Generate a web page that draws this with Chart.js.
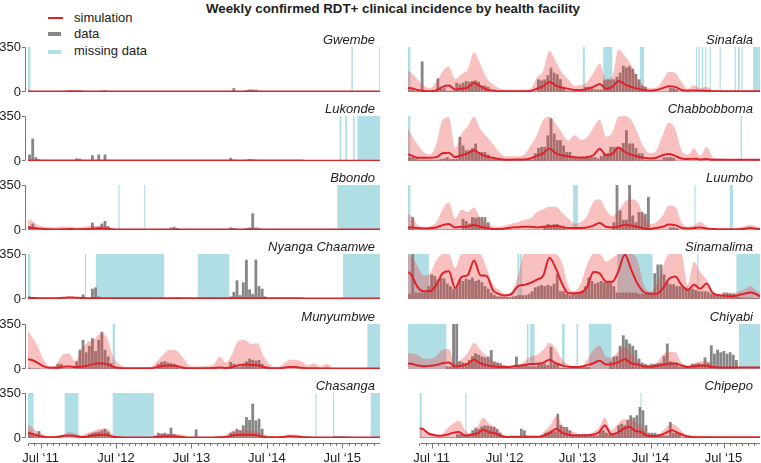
<!DOCTYPE html>
<html>
<head>
<meta charset="utf-8">
<title>Weekly confirmed RDT+ clinical incidence by health facility</title>
<script src="https://cdn.jsdelivr.net/npm/chart.js@4.4.1/dist/chart.umd.min.js"></script>
<style>
  html, body { margin: 0; padding: 0; background: #fff; }
  #fig { position: relative; width: 761px; height: 463px; overflow: hidden;
         font-family: "Liberation Sans", Arial, sans-serif; color: #222; }
  #fig canvas { position: absolute; }
  .title { position: absolute; left: 0; top: 1px; width: 786px; text-align: center;
           font-size: 13.3px; font-weight: bold; line-height: 16px; }
  .legtext { position: absolute; left: 74px; font-size: 13px; line-height: 16px; }
  .swatch { position: absolute; left: 48px; }
  .panelname { position: absolute; width: 200px; text-align: right;
               font-size: 13px; font-style: italic; line-height: 16px; }
</style>
</head>
<body>
<div id="fig">
  <div class="title">Weekly confirmed RDT+ clinical incidence by health facility</div>
  <div class="swatch" style="top:17px;width:15px;height:2px;background:rgb(222,34,42)"></div>
  <div class="legtext" style="top:10px">simulation</div>
  <div class="swatch" style="top:32px;width:13px;height:4px;background:rgb(135,135,135)"></div>
  <div class="legtext" style="top:26px">data</div>
  <div class="swatch" style="top:50px;width:13px;height:4px;background:rgb(176,222,229)"></div>
  <div class="legtext" style="top:43px">missing data</div>
</div>
<script>
// axe du temps en années décimales (mai 2011 -> fin 2015)
var xMin = 2011 + 4 / 12;
var xMax = 2016;
var tickValues = [2011.5, 2012.5, 2013.5, 2014.5, 2015.5];
var tickLabels = ['Jul \u201811', 'Jul \u201812', 'Jul \u201813', 'Jul \u201814', 'Jul \u201815'];

// simulation / borne haute : bord gauche, 56 mois (mai 2011 - déc 2015), bord droit
// données : 112 demi-mois
var gwembeSim = [4,
  4,4,3,3,3,4,5,5,
  4,4,3,3,3,3,3,3,3,3,3,3,
  3,3,3,3,3,3,3,3,3,3,3,3,
  4,4,4,4,4,3,3,3,3,3,3,3,
  3,3,3,3,3,3,3,3,3,3,3,3,
  3];
var gwembeUpper = [8,
  8,7,6,6,6,8,9,9,
  8,8,7,6,6,6,6,6,6,6,6,6,
  6,6,6,6,6,6,6,6,6,6,6,6,
  8,8,8,8,8,6,6,6,6,6,6,6,
  5,5,5,5,5,5,5,5,5,5,5,5,
  5];
var gwembeCases = [
  10,8,5,2,2,2,2,2,2,2,2,2,2,2,3,12,
  15,10,3,3,5,5,3,12,15,3,2,2,2,1,1,1,1,1,1,1,1,1,2,2,
  6,5,3,4,2,2,2,1,1,1,1,1,1,1,1,1,1,1,1,1,1,1,1,2,
  8,30,8,4,6,15,20,20,18,10,3,1,1,1,1,1,1,1,1,1,1,1,1,1,
  1,1,1,1,1,1,1,1,1,1,1,1,1,1,1,1,1,1,1,1,1,1,1,1];
var gwembeMissing = [[2011.333, 2011.365], [2015.62, 2015.64], [2015.989, 2016.0]];

var lukondeSim = [3,
  4,3,3,3,3,3,3,3,
  3,3,3,3,3,3,3,3,3,3,3,3,
  3,3,3,3,3,3,3,3,3,3,3,3,
  3,3,3,3,3,3,3,3,3,3,3,3,
  2,2,2,2,2,2,2,2,2,2,2,2,
  2];
var lukondeUpper = [6,
  7,6,6,6,6,6,6,6,
  6,6,6,6,6,6,6,6,6,6,6,6,
  6,6,6,6,6,6,6,6,6,6,6,6,
  6,6,6,6,6,6,6,6,6,6,6,6,
  4,4,4,4,4,4,4,4,4,4,4,4,
  4];
var lukondeCases = [
  50,175,30,15,5,3,3,2,2,2,2,2,2,2,3,20,
  18,3,3,5,45,3,50,8,50,5,2,2,1,1,1,1,1,1,1,1,1,1,1,1,
  8,3,2,1,1,1,1,1,1,1,1,1,1,1,1,1,1,1,1,1,1,1,1,1,
  25,10,3,3,3,10,15,12,10,8,2,1,1,1,1,1,1,1,1,1,1,1,1,1,
  1,1,1,1,1,1,1,1,1,1,1,1,0,0,0,0,0,0,0,0,0,0,0,0];
var lukondeMissing = [[2015.464, 2015.487], [2015.54, 2015.562], [2015.642, 2015.664], [2015.70, 2016.0]];

var bbondoSim = [20,
  18,12,8,5,4,6,8,6,
  5,8,10,12,10,5,3,3,3,3,3,3,
  3,3,3,3,3,3,3,3,3,3,3,3,
  4,4,4,4,4,4,3,3,3,3,3,3,
  3,3,3,3,3,3,3,3,3,3,3,3,
  3];
var bbondoUpper = [80,
  75,40,25,20,22,28,25,20,
  22,30,32,35,30,10,6,6,6,6,6,6,
  6,6,6,6,6,6,6,6,6,6,6,6,
  8,8,8,8,8,8,6,6,6,6,6,6,
  5,5,5,5,5,5,5,5,5,5,5,5,
  5];
var bbondoCases = [
  30,50,20,5,5,5,5,5,5,5,5,5,5,5,5,8,
  8,10,10,15,57,20,25,50,70,30,5,2,2,2,2,2,2,2,2,2,2,2,2,2,
  2,2,2,2,2,20,25,15,5,2,2,2,2,2,2,2,2,2,2,2,2,2,2,2,
  20,15,10,5,5,15,20,130,20,15,3,2,2,2,2,2,2,2,2,2,2,2,2,2,
  2,2,2,2,2,2,2,2,5,2,0,0,0,0,0,0,0,0,0,0,0,0,0,0];
var bbondoMissing = [[2012.531, 2012.544], [2012.873, 2012.887], [2015.433, 2016.0]];

var nyangaSim = [8,
  8,6,5,5,6,9,12,10,
  8,6,5,5,5,5,5,5,5,5,5,5,
  5,5,5,5,5,5,5,5,5,5,5,5,
  5,5,5,5,5,5,5,5,5,5,5,5,
  4,4,4,4,4,4,4,4,4,4,4,4,
  4];
var nyangaUpper = [15,
  15,12,10,10,12,16,20,16,
  14,12,10,10,9,9,9,9,9,9,9,9,
  8,8,8,8,8,8,8,8,8,8,8,8,
  8,8,8,8,8,8,8,8,8,8,8,8,
  6,6,6,6,6,6,6,6,6,6,6,6,
  6];
var nyangaCases = [
  20,15,5,5,5,3,3,3,3,3,3,3,3,3,3,3,
  3,35,5,3,80,90,20,3,2,2,0,0,0,0,0,0,0,0,0,0,0,0,0,0,
  0,0,0,3,3,3,3,15,12,3,3,3,3,0,0,0,0,0,0,0,0,0,0,0,
  20,55,145,30,130,306,75,40,306,100,80,20,5,5,5,5,5,5,5,5,5,5,5,5,
  5,5,5,5,5,5,5,5,8,8,5,5,0,0,0,0,0,0,0,0,0,0,0,0];
var nyangaMissing = [[2011.333, 2011.365], [2012.087, 2012.10], [2012.233, 2013.14], [2013.584, 2014.002], [2015.509, 2016.0]];

var munyumbweSim = [75,
  72,50,20,10,10,18,20,15,
  18,25,40,45,38,18,8,5,5,5,5,5,
  15,25,28,25,12,6,5,5,5,8,12,8,
  15,30,35,32,30,15,6,5,8,15,15,10,
  5,6,4,5,3,3,3,3,3,3,3,3,
  3];
var munyumbweUpper = [300,
  260,180,70,20,35,110,120,60,
  150,210,230,275,250,100,40,15,10,10,10,15,
  60,110,150,145,100,35,20,20,25,35,95,50,
  120,220,225,195,200,100,35,15,35,70,72,60,
  30,45,20,40,10,8,6,5,5,5,5,5,
  5];
var munyumbweCases = [
  10,5,5,5,3,3,3,3,3,40,40,5,5,5,5,60,
  150,226,130,180,240,140,226,290,150,98,46,20,3,3,3,3,3,3,3,3,3,3,3,3,
  3,40,55,60,50,45,40,20,5,5,3,3,3,3,3,3,3,3,3,3,3,3,3,3,
  55,40,30,20,40,60,80,70,65,70,40,15,3,3,3,3,3,3,3,3,3,3,3,3,
  3,3,3,3,3,3,3,3,3,3,3,3,3,3,3,3,2,2,2,2,0,0,0,0];
var munyumbweMissing = [[2012.456, 2012.487], [2015.833, 2016.0]];

var chasangaSim = [38,
  34,20,10,6,8,15,20,15,
  8,12,22,26,25,10,5,4,4,4,4,4,
  8,12,14,12,8,4,4,4,4,4,6,8,
  20,26,26,25,20,8,5,5,8,13,12,8,
  5,4,4,4,4,4,4,4,4,4,4,4,
  4];
var chasangaUpper = [100,
  90,50,25,15,15,25,45,35,
  20,40,55,72,72,25,10,8,8,8,8,8,
  20,33,35,33,25,12,8,8,8,8,15,25,
  55,60,60,55,50,20,10,8,15,28,28,20,
  10,12,8,10,5,5,5,5,5,5,5,5,
  5];
var chasangaCases = [
  50,40,20,54,10,5,5,5,5,5,5,0,0,0,0,0,
  10,10,10,30,40,45,50,60,72,50,10,0,0,0,0,0,0,0,0,0,0,0,0,0,
  20,40,35,40,30,80,30,20,15,5,5,5,5,67,5,5,5,5,5,5,5,5,5,10,
  40,50,72,60,98,163,140,267,137,150,72,20,10,10,3,3,3,3,3,3,3,3,3,3,
  3,3,3,3,3,3,3,3,3,15,15,12,15,12,10,8,3,3,3,3,0,0,0,0];
var chasangaMissing = [[2011.333, 2011.407], [2011.82, 2012.002], [2012.456, 2013.002], [2015.144, 2015.158], [2015.376, 2015.389], [2015.878, 2016.0]];

var sinafalaSim = [32,
  30,15,8,6,12,40,50,20,
  25,35,70,45,20,12,5,5,5,5,5,8,
  25,45,80,50,35,25,15,15,25,40,62,25,
  40,85,60,40,25,15,10,15,30,45,40,15,
  10,12,10,10,5,5,5,5,5,5,5,5,
  5];
var sinafalaUpper = [165,
  150,100,50,30,80,160,200,100,
  140,175,310,220,110,60,30,20,18,18,20,25,
  111,164,320,240,150,100,50,55,80,150,220,100,
  120,330,280,210,110,50,30,35,90,155,150,80,
  25,50,30,40,15,12,10,10,10,10,10,10,
  10];
var sinafalaCases = [
  20,20,10,5,238,5,5,5,5,106,30,30,10,10,10,72,
  60,72,85,80,85,90,80,50,50,40,5,5,5,5,5,5,5,5,5,5,5,5,5,5,
  5,98,90,98,130,190,150,138,100,40,10,10,10,10,10,10,40,40,35,20,20,20,90,98,
  95,98,120,150,204,190,200,180,140,98,50,40,5,5,5,5,5,5,5,30,30,20,3,3,
  3,3,3,3,3,3,3,3,3,3,3,3,3,3,3,3,3,3,3,3,3,3,3,3];
var sinafalaMissing = [[2011.333, 2011.365], [2013.651, 2013.678], [2013.922, 2014.042], [2014.407, 2014.464],
  [2015.153, 2015.167], [2015.184, 2015.202], [2015.229, 2015.247], [2015.273, 2015.287], [2015.331, 2015.344],
  [2015.464, 2015.478], [2015.664, 2015.678], [2015.709, 2015.731], [2015.753, 2015.767], [2015.909, 2016.0]];

var chabbobbomaSim = [50,
  44,25,25,25,30,60,65,30,
  45,58,84,55,35,25,15,10,10,12,12,20,
  40,60,97,60,45,35,30,28,30,45,95,45,
  55,105,70,50,35,25,20,25,45,55,40,20,
  15,18,12,15,10,10,10,10,10,10,10,10,
  10];
var chabbobbomaUpper = [250,
  210,130,70,50,130,320,340,100,
  210,270,345,250,190,135,70,37,37,37,50,120,
  200,318,345,290,220,160,200,165,185,260,320,190,
  220,345,350,320,220,110,60,80,200,300,250,85,
  50,100,40,110,30,20,15,12,12,12,12,12,
  12];
var chabbobbomaCases = [
  30,30,20,10,10,10,10,10,10,10,15,20,30,15,15,15,
  188,120,84,84,100,136,70,70,70,50,15,15,15,15,15,10,10,10,10,10,10,10,10,10,
  60,100,110,110,200,332,214,162,162,120,70,70,30,30,30,30,30,30,30,30,20,40,60,60,
  110,110,110,100,140,240,136,136,100,60,60,10,10,10,10,10,10,30,30,30,25,3,3,3,
  3,3,3,3,3,3,3,3,3,3,3,3,3,3,3,3,3,3,3,3,3,3,3,3];
var chabbobbomaMissing = [[2011.333, 2011.365], [2015.744, 2015.762]];

var luumboSim = [22,
  21,15,12,14,20,38,47,20,
  25,28,38,25,15,8,8,12,20,22,25,25,
  20,25,30,32,25,15,15,16,20,35,55,25,
  20,28,40,35,25,12,8,15,25,42,38,18,
  12,15,20,12,8,5,5,5,5,10,15,10,
  8];
var luumboUpper = [120,
  110,40,25,30,60,160,215,90,
  160,140,175,90,50,30,25,35,50,60,80,90,
  140,160,180,180,135,90,50,60,110,220,240,160,
  110,150,220,240,220,110,45,60,110,190,180,60,
  25,35,65,30,10,10,10,10,15,30,40,25,
  15];
var luumboCases = [
  20,100,5,5,5,5,5,5,5,5,5,5,5,5,5,5,
  5,87,70,50,100,95,100,100,100,60,10,5,3,3,3,3,3,3,3,3,3,3,3,3,
  3,3,3,30,47,40,45,47,20,20,5,3,3,3,3,3,3,3,3,3,3,3,3,3,
  3,60,350,153,80,80,350,113,60,140,140,126,258,10,3,3,3,3,3,20,20,15,3,3,
  3,3,3,3,3,3,3,3,3,3,3,3,3,3,3,3,3,3,3,3,3,3,3,3];
var luumboMissing = [[2011.333, 2011.365], [2013.522, 2013.584], [2015.131, 2015.144], [2015.598, 2015.642]];

var sinamalimaSim = [210,
  190,95,60,60,110,200,215,85,
  170,185,300,185,180,70,38,28,40,100,110,125,
  150,180,320,240,120,45,45,50,95,210,200,135,
  135,220,345,230,120,55,42,40,78,155,175,110,
  70,110,80,120,45,30,25,21,30,40,50,35,
  20];
var sinamalimaUpper = [350,
  340,260,180,200,300,350,350,240,
  350,350,350,350,240,115,70,40,60,180,350,350,
  350,350,350,350,280,100,60,120,270,350,350,290,
  320,350,350,350,300,115,55,110,240,350,350,350,
  110,290,210,150,60,40,38,45,55,75,100,60,
  50];
var sinamalimaCases = [
  40,350,50,50,50,50,100,190,180,150,166,160,120,100,80,90,
  150,140,160,150,166,140,150,130,100,80,50,30,20,20,20,15,15,20,25,30,30,30,40,60,
  90,100,110,100,110,100,120,192,60,60,40,30,40,40,50,60,100,166,140,120,130,140,130,130,
  130,100,50,50,50,50,50,50,50,40,40,40,40,40,200,268,268,190,130,115,115,100,100,95,
  90,85,80,70,60,60,60,55,40,35,30,30,50,50,45,40,30,15,10,10,10,8,8,8];
var sinamalimaMissing = [[2011.333, 2011.611], [2012.784, 2012.811], [2012.82, 2012.842], [2014.109, 2014.576],
  [2015.167, 2015.176], [2015.687, 2016.0]];

var chiyabiSim = [42,
  40,28,22,25,30,45,50,20,
  25,40,71,45,28,22,15,15,18,25,32,38,
  40,48,71,45,28,18,15,18,30,45,64,35,
  38,55,75,45,35,20,18,25,32,40,42,28,
  15,20,28,25,15,12,12,12,12,12,12,12,
  12];
var chiyabiUpper = [125,
  122,110,80,80,100,150,155,40,
  75,125,205,150,100,60,35,20,20,22,60,95,
  110,150,205,160,75,35,20,20,70,150,180,95,
  90,140,170,120,60,35,30,40,110,135,130,50,
  30,45,60,60,30,15,15,15,15,15,15,15,
  15];
var chiyabiCases = [
  0,0,0,0,0,0,0,0,0,0,0,0,20,20,350,350,
  60,50,45,70,100,122,110,97,90,97,147,58,50,45,30,10,10,10,97,30,30,30,20,20,
  20,40,40,40,30,173,40,30,10,10,10,10,10,10,20,15,15,15,0,0,0,0,0,0,
  60,97,100,180,262,230,198,180,147,80,50,40,30,40,40,45,50,100,198,60,50,50,20,20,
  20,20,40,40,45,40,90,50,185,120,150,130,140,120,130,110,70,0,0,0,0,0,0,0];
var chiyabiMissing = [[2011.333, 2011.842], [2012.909, 2012.931], [2012.953, 2013.011], [2013.376, 2013.411],
  [2013.567, 2013.589], [2013.731, 2014.029], [2015.722, 2016.0]];

var chipepoSim = [75,
  72,35,22,18,25,40,47,20,
  25,35,65,45,35,15,8,10,10,10,10,10,
  20,40,72,40,25,20,20,22,25,45,98,30,
  40,70,85,55,45,18,15,20,40,60,40,20,
  10,6,6,6,6,6,6,6,6,6,6,6,
  6];
var chipepoUpper = [75,
  72,40,30,25,70,110,137,60,
  35,85,160,110,85,35,15,13,13,13,13,13,
  50,100,170,100,60,45,30,30,45,80,160,60,
  100,145,145,125,90,40,25,35,80,110,85,35,
  22,20,18,15,8,8,8,8,8,8,8,8,
  8];
var chipepoCases = [
  5,5,5,5,5,5,5,5,5,5,5,5,30,30,25,20,
  20,60,80,70,90,98,95,90,85,70,40,8,8,8,8,8,8,72,60,20,10,10,10,10,
  10,40,50,60,50,189,100,85,85,60,30,30,30,30,30,20,20,20,20,60,60,40,30,30,
  30,100,111,100,140,176,160,176,241,215,100,40,40,40,30,20,20,20,124,40,40,30,5,5,
  5,5,5,5,5,5,5,5,5,5,5,5,5,5,5,5,5,5,5,5,5,5,5,5];
var chipepoMissing = [[2011.333, 2011.365], [2011.962, 2011.976], [2014.362, 2014.376]];

var panels = [
  { name: 'Gwembe', col: 0, row: 0, sim: gwembeSim, upper: gwembeUpper, cases: gwembeCases, missing: gwembeMissing },
  { name: 'Lukonde', col: 0, row: 1, sim: lukondeSim, upper: lukondeUpper, cases: lukondeCases, missing: lukondeMissing },
  { name: 'Bbondo', col: 0, row: 2, sim: bbondoSim, upper: bbondoUpper, cases: bbondoCases, missing: bbondoMissing },
  { name: 'Nyanga Chaamwe', col: 0, row: 3, sim: nyangaSim, upper: nyangaUpper, cases: nyangaCases, missing: nyangaMissing },
  { name: 'Munyumbwe', col: 0, row: 4, sim: munyumbweSim, upper: munyumbweUpper, cases: munyumbweCases, missing: munyumbweMissing },
  { name: 'Chasanga', col: 0, row: 5, sim: chasangaSim, upper: chasangaUpper, cases: chasangaCases, missing: chasangaMissing },
  { name: 'Sinafala', col: 1, row: 0, sim: sinafalaSim, upper: sinafalaUpper, cases: sinafalaCases, missing: sinafalaMissing },
  { name: 'Chabbobboma', col: 1, row: 1, sim: chabbobbomaSim, upper: chabbobbomaUpper, cases: chabbobbomaCases, missing: chabbobbomaMissing },
  { name: 'Luumbo', col: 1, row: 2, sim: luumboSim, upper: luumboUpper, cases: luumboCases, missing: luumboMissing },
  { name: 'Sinamalima', col: 1, row: 3, sim: sinamalimaSim, upper: sinamalimaUpper, cases: sinamalimaCases, missing: sinamalimaMissing },
  { name: 'Chiyabi', col: 1, row: 4, sim: chiyabiSim, upper: chiyabiUpper, cases: chiyabiCases, missing: chiyabiMissing },
  { name: 'Chipepo', col: 1, row: 5, sim: chipepoSim, upper: chipepoUpper, cases: chipepoCases, missing: chipepoMissing }
];

var RED = 'rgb(222,34,42)';
var PINK = 'rgba(236,64,64,0.33)';
var GREY = 'rgb(135,135,135)';
var BLUE = 'rgb(176,222,229)';
var AXIS = 'rgb(120,120,120)';
var plotTops = [47, 116, 185, 254, 324, 393];
var PAD = 15; // marge autour de chaque zone de tracé dans son canvas

// positions x des points (bords + milieux de mois) et des barres (demi-mois)
var lineX = [xMin];
for (var m = 0; m < 56; m++) lineX.push(xMin + (m + 0.5) / 12);
lineX.push(xMax);
var barX = [];
for (var k = 0; k < 112; k++) barX.push(xMin + (k + 0.5) / 24);
var monthTicks = [];
for (var t = 0; t <= 56; t++) monthTicks.push(xMin + t / 12);

Chart.defaults.font.family = '"Liberation Sans", Arial, sans-serif';
Chart.defaults.font.size = 13;
Chart.defaults.color = '#222';

function toPoints(xs, ys) {
    return ys.map(function (v, i) { return { x: xs[i], y: v }; });
}

// zones de données manquantes + axes dessinés à la main
function framePlugin(p) {
    return {
        id: 'frame',
        beforeDatasetsDraw: function (chart) {
            var ctx = chart.ctx, a = chart.chartArea, x = chart.scales.x, y = chart.scales.y;
            var top = y.getPixelForValue(350), bot = y.getPixelForValue(0);
            ctx.save();
            ctx.beginPath();
            ctx.rect(a.left, a.top, a.right - a.left, a.bottom - a.top);
            ctx.clip();
            ctx.fillStyle = BLUE;
            p.missing.forEach(function (r) {
                var x0 = x.getPixelForValue(r[0]), x1 = x.getPixelForValue(r[1]);
                ctx.fillRect(x0, top, Math.max(x1 - x0, 1.2), bot - top);
            });
            ctx.restore();
        },
        afterDraw: function (chart) {
            var ctx = chart.ctx, a = chart.chartArea, x = chart.scales.x, y = chart.scales.y;
            ctx.save();
            ctx.strokeStyle = AXIS;
            ctx.lineWidth = 1;
            ctx.beginPath();
            if (p.col === 0) {
                var ax = Math.round(a.left) - 2.5;
                var t = Math.round(y.getPixelForValue(350)) + 0.5;
                var b = Math.round(y.getPixelForValue(0)) - 0.5;
                ctx.moveTo(ax, t); ctx.lineTo(ax, b);
                ctx.moveTo(ax - 3.5, t); ctx.lineTo(ax, t);
                ctx.moveTo(ax - 3.5, b); ctx.lineTo(ax, b);
            }
            if (p.row === 5) {
                var ay = Math.round(a.bottom) + 5.5;
                ctx.moveTo(a.left + 1, ay); ctx.lineTo(a.right, ay);
                monthTicks.forEach(function (v, i) {
                    var px = Math.round(x.getPixelForValue(v)) + 0.5;
                    var len = (i % 12 === 2) ? 5 : 2.5;
                    ctx.moveTo(px, ay); ctx.lineTo(px, ay + len);
                });
            }
            ctx.stroke();
            ctx.restore();
        }
    };
}

var fig = document.getElementById('fig');

panels.forEach(function (p) {
    var T = plotTops[p.row];
    var bottomRow = p.row === 5;
    var leftCol = p.col === 0;
    var left = leftCol ? 0 : 400;
    var width = leftCol ? 380 : 360;
    var height = PAD + 45 + (bottomRow ? 25 : PAD);

    var cv = document.createElement('canvas');
    cv.width = width;
    cv.height = height;
    cv.style.left = left + 'px';
    cv.style.top = (T - PAD) + 'px';
    fig.appendChild(cv);

    var nm = document.createElement('div');
    nm.className = 'panelname';
    nm.textContent = p.name;
    nm.style.left = ((leftCol ? 375 : 753) - 200) + 'px';
    nm.style.top = (T - 15) + 'px';
    fig.appendChild(nm);

    new Chart(cv, {
        type: 'bar',
        data: {
            datasets: [{
                type: 'line',
                label: 'simulation',
                data: toPoints(lineX, p.sim),
                borderColor: RED,
                borderWidth: 2,
                pointRadius: 0,
                cubicInterpolationMode: 'monotone',
                fill: false,
                order: 0
            }, {
                type: 'line',
                label: 'upper',
                data: toPoints(lineX, p.upper),
                borderWidth: 0,
                borderColor: 'rgba(0,0,0,0)',
                backgroundColor: PINK,
                pointRadius: 0,
                cubicInterpolationMode: 'monotone',
                fill: 'origin',
                order: 1
            }, {
                type: 'bar',
                label: 'data',
                data: toPoints(barX, p.cases),
                backgroundColor: GREY,
                borderWidth: 0,
                barPercentage: 0.9,
                categoryPercentage: 1,
                order: 2
            }]
        },
        options: {
            responsive: false,
            animation: false,
            events: [],
            layout: { padding: { top: PAD, bottom: bottomRow ? 0 : PAD, left: leftCol ? 0 : 8, right: 0 } },
            plugins: { legend: { display: false }, tooltip: { enabled: false } },
            scales: {
                x: {
                    type: 'linear',
                    min: xMin,
                    max: xMax,
                    offset: false,
                    display: bottomRow,
                    grid: { display: false, drawTicks: false },
                    border: { display: false },
                    afterBuildTicks: function (s) {
                        s.ticks = tickValues.map(function (v) { return { value: v }; });
                    },
                    afterFit: function (s) { if (bottomRow) s.height = 25; },
                    ticks: {
                        autoSkip: false,
                        maxRotation: 0,
                        padding: 13,
                        color: '#222',
                        callback: function (v) { return tickLabels[Math.round(v - 2011.5)]; }
                    }
                },
                y: {
                    min: 0,
                    max: 350,
                    display: leftCol,
                    grid: { display: false, drawTicks: false },
                    border: { display: false },
                    afterBuildTicks: function (s) { s.ticks = [{ value: 0 }, { value: 350 }]; },
                    afterFit: function (s) { if (leftCol) s.width = 28; },
                    ticks: { padding: 7, color: '#222', autoSkip: false }
                }
            }
        },
        plugins: [framePlugin(p)]
    });
});
</script>
</body>
</html>
